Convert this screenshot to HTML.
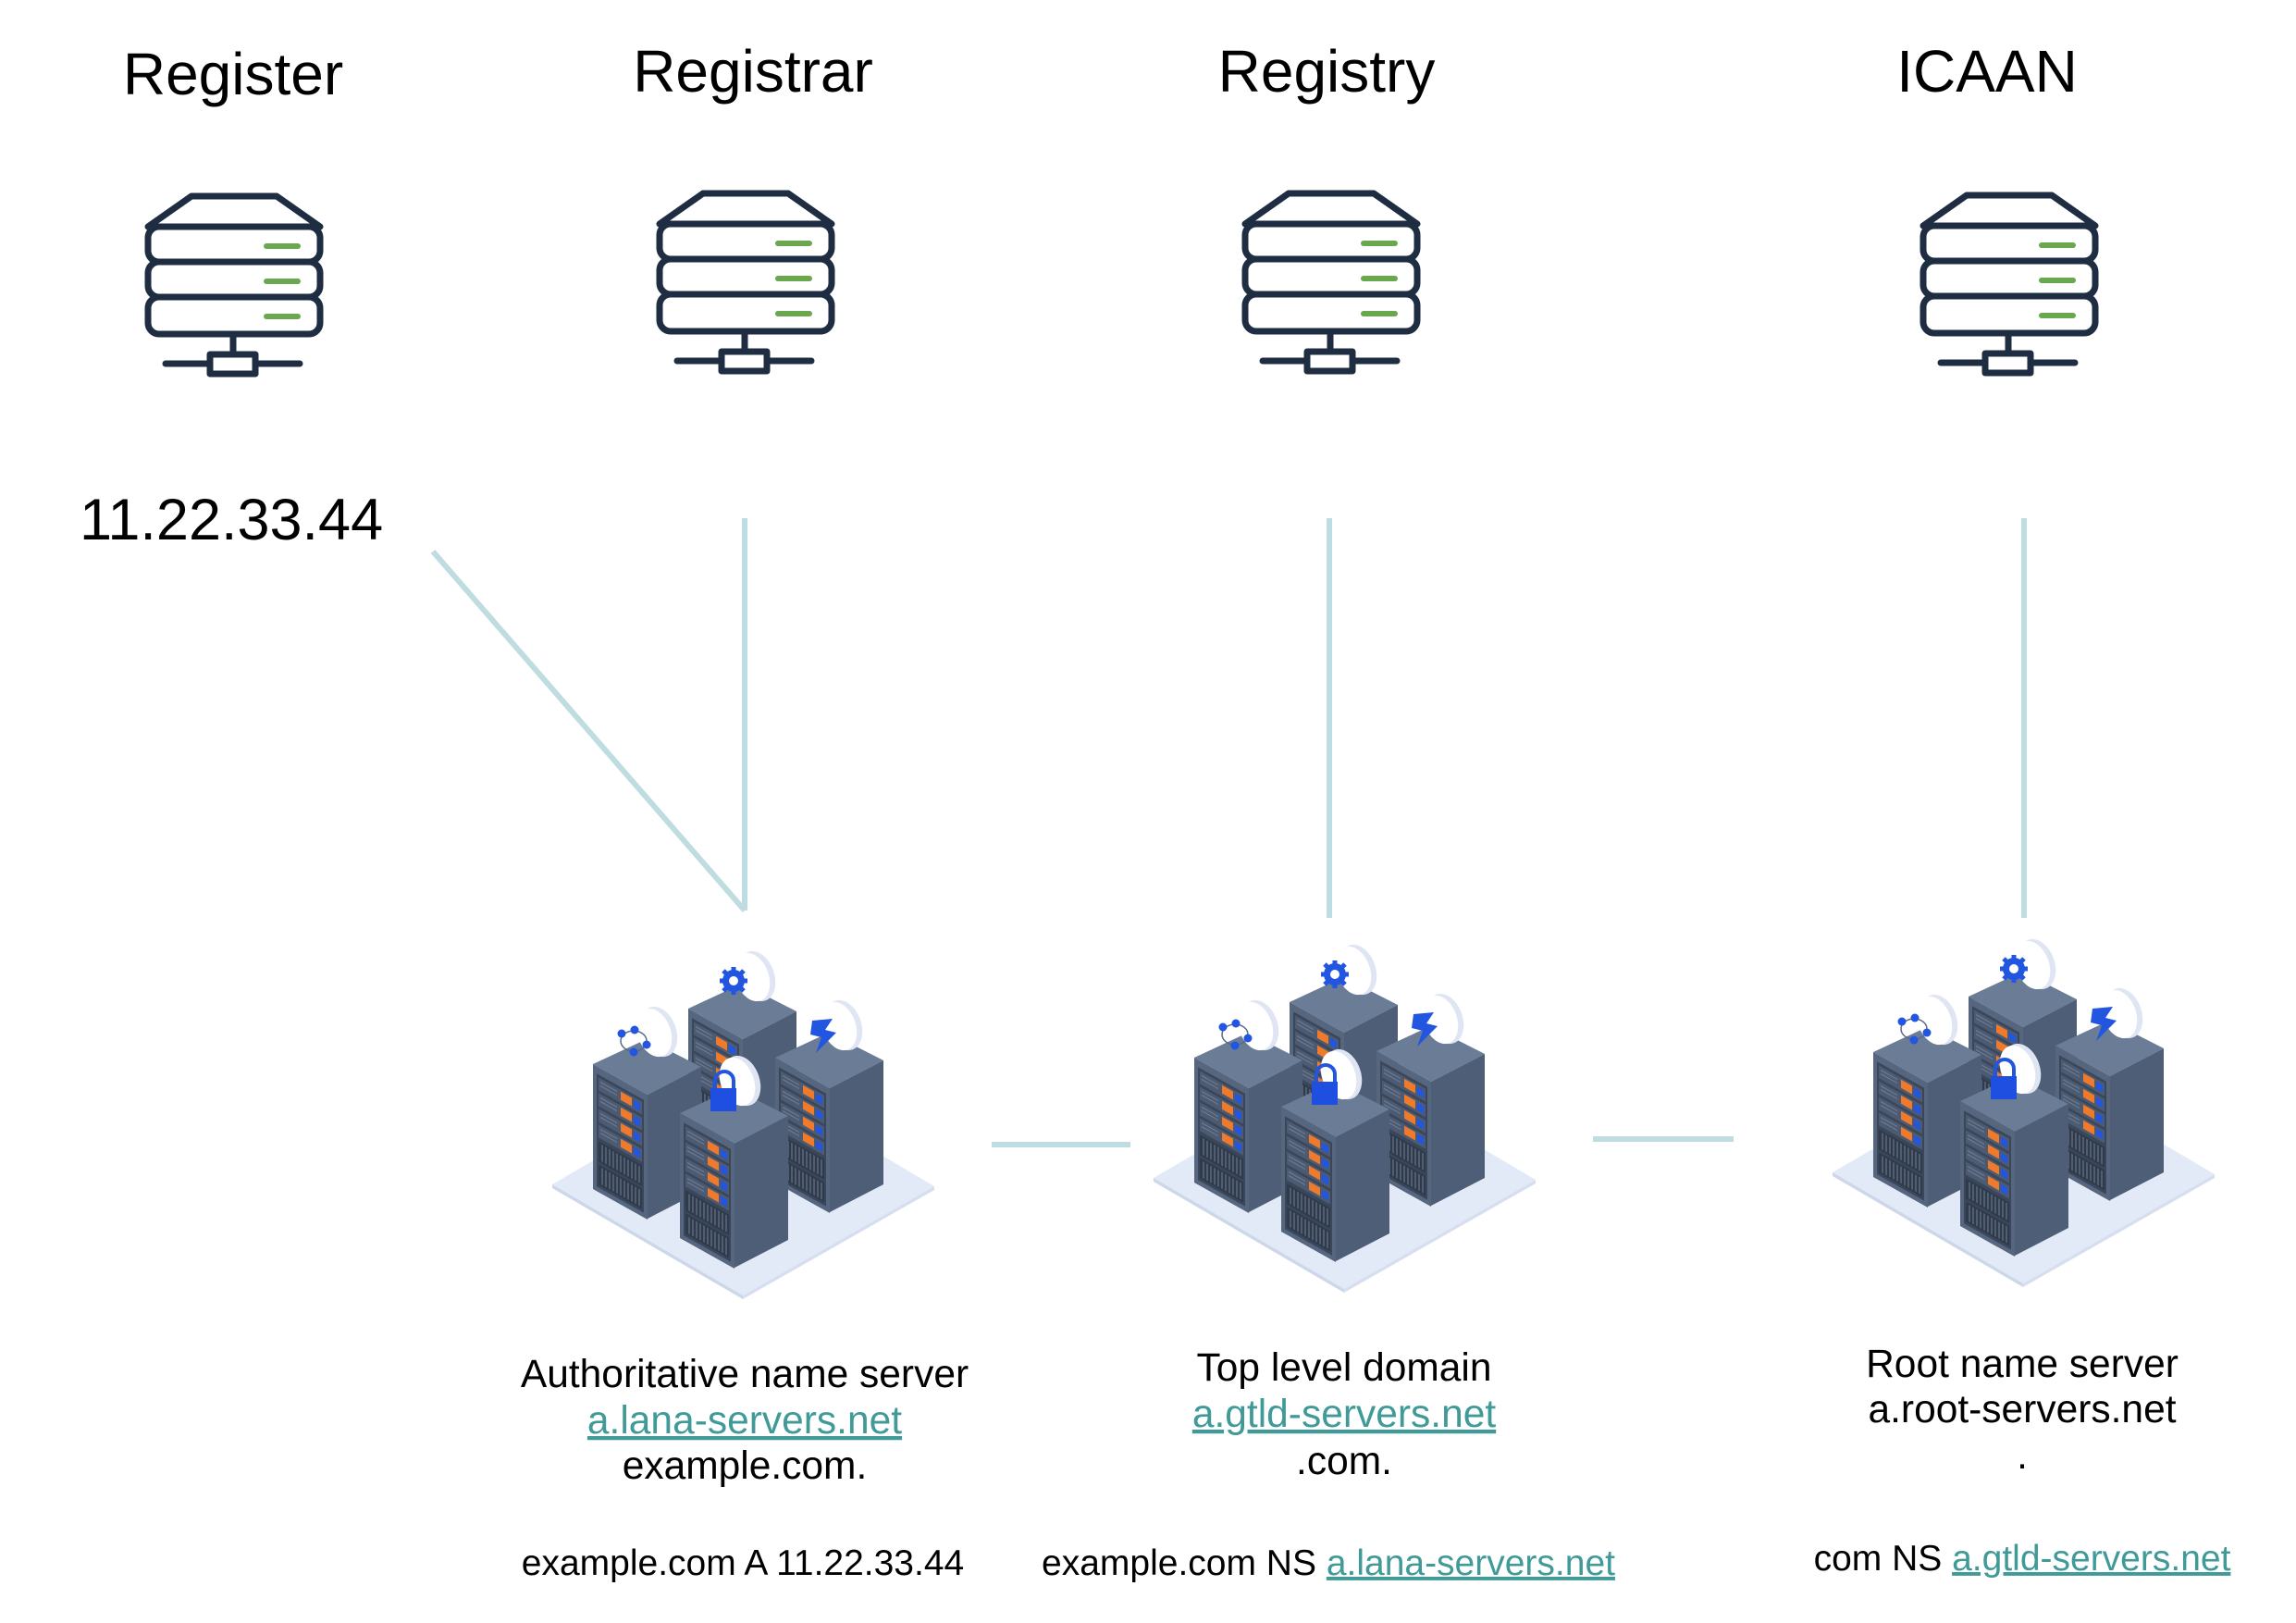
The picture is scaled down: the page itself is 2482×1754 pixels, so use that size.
<!DOCTYPE html>
<html><head><meta charset="utf-8"><style>
html,body{margin:0;padding:0;background:#fff;width:2482px;height:1754px;overflow:hidden}
svg{display:block}
text{font-family:"Liberation Sans",Arial,sans-serif;fill:#000}
.lk{fill:#3f9a98;text-decoration:underline}
</style></head><body>
<svg width="2482" height="1754" viewBox="0 0 2482 1754" xmlns="http://www.w3.org/2000/svg">
<defs>
<g id="icon" fill="none" stroke="#1f2d42" stroke-width="7" stroke-linejoin="round" stroke-linecap="round">
  <path d="M47 0 H139 L186 33 H0 Z" fill="#fff"/>
  <rect x="0" y="33" width="186" height="38" rx="12" fill="#fff"/>
  <rect x="0" y="71" width="186" height="38" rx="12" fill="#fff"/>
  <rect x="0" y="109" width="186" height="40" rx="12" fill="#fff"/>
  <line x1="92" y1="149" x2="92" y2="173"/>
  <line x1="19" y1="181" x2="164" y2="181"/>
  <rect x="67" y="171" width="49" height="21" fill="#fff"/>
  <g stroke="#6aa84f" stroke-width="6"><line x1="128" y1="54" x2="162" y2="54"/><line x1="128" y1="92" x2="162" y2="92"/><line x1="128" y1="130" x2="162" y2="130"/></g>
</g>
<g id="rack">
  <polygon points="0,0 59,33 117,3 58,-27" fill="#6a7c96"/>
  <polygon points="59,33 117,3 117,137 59,167" fill="#4e5e77"/>
  <g transform="matrix(1,0.56,0,1,0,0)">
    <rect x="0" y="0" width="59" height="135" fill="#56667e"/>
    <rect x="4" y="8" width="51" height="122" fill="#3a475b"/>
    <g fill="#4c5b71">
      <rect x="6" y="11" width="47" height="14"/><rect x="6" y="28" width="47" height="14"/>
      <rect x="6" y="45" width="47" height="14"/><rect x="6" y="62" width="47" height="14"/>
    </g>
    <g fill="#f07a2c">
      <rect x="30" y="13" width="12" height="9"/><rect x="30" y="30" width="12" height="9"/>
      <rect x="30" y="47" width="12" height="9"/><rect x="30" y="64" width="12" height="9"/>
    </g>
    <g fill="#2356e0">
      <rect x="44" y="14" width="7" height="8"/><rect x="44" y="31" width="7" height="8"/>
      <rect x="44" y="48" width="7" height="8"/><rect x="44" y="65" width="7" height="8"/>
    </g>
    <g stroke="#6f7e95" stroke-width="1.2">
      <line x1="8" y1="15" x2="26" y2="15"/><line x1="8" y1="19" x2="26" y2="19"/>
      <line x1="8" y1="32" x2="26" y2="32"/><line x1="8" y1="36" x2="26" y2="36"/>
      <line x1="8" y1="49" x2="26" y2="49"/><line x1="8" y1="53" x2="26" y2="53"/>
      <line x1="8" y1="66" x2="26" y2="66"/><line x1="8" y1="70" x2="26" y2="70"/>
    </g>
    <rect x="6" y="80" width="47" height="22" fill="#2f3a4b"/>
    <rect x="6" y="105" width="47" height="22" fill="#2f3a4b"/>
    <g stroke="#5d6b80" stroke-width="1.5">
      <path d="M10 82V100M14 82V100M18 82V100M22 82V100M26 82V100M30 82V100M34 82V100M38 82V100M42 82V100M46 82V100M50 82V100"/>
      <path d="M10 107V125M14 107V125M18 107V125M22 107V125M26 107V125M30 107V125M34 107V125M38 107V125M42 107V125M46 107V125M50 107V125"/>
    </g>
  </g>
</g>
<g id="disc"><ellipse cx="8" cy="0" rx="19" ry="28" fill="#dfe5f2" transform="rotate(-20 8 0)"/><ellipse cx="3" cy="1" rx="18" ry="27" fill="#fff" transform="rotate(-20 3 1)"/></g>
<g id="cluster">
  <polygon points="17,280 223,160 430,282 223,400" fill="#e3eaf7"/>
  <polygon points="17,280 223,400 223,404 17,284" fill="#cdd7ea"/>
  <polygon points="223,400 430,282 430,286 223,404" fill="#d6def0"/>
  <use href="#rack" x="164" y="90"/>
  <use href="#disc" x="230" y="55"/>
  <g transform="translate(213,60)" fill="#2356e0"><circle r="12"/><g stroke="#2356e0" stroke-width="5"><line x1="-15" y1="0" x2="15" y2="0"/><line x1="0" y1="-15" x2="0" y2="15"/><line x1="-11" y1="-11" x2="11" y2="11"/><line x1="-11" y1="11" x2="11" y2="-11"/></g><circle r="5" fill="#fff"/></g>
  <use href="#rack" x="61" y="150"/>
  <use href="#disc" x="124" y="115"/>
  <g transform="translate(105,125)"><ellipse rx="14" ry="11" fill="none" stroke="#5a6a86" stroke-width="1.5"/><g fill="#2356e0"><circle cx="-13" cy="-8" r="4.5"/><circle cx="1" cy="-12" r="4.5"/><circle cx="14" cy="4" r="4.5"/><circle cx="0" cy="12" r="4.5"/></g></g>
  <use href="#rack" x="258" y="143"/>
  <use href="#disc" x="324" y="108"/>
  <polygon points="298,103 320,101 312,113 324,116 302,138 308,121 296,118" fill="#2356e0"/>
  <use href="#rack" x="155" y="203"/>
  <use href="#disc" x="214" y="168"/>
  <path d="M193 178 V168 a10 10 0 0 1 20 0 V178" fill="none" stroke="#2356e0" stroke-width="4"/>
  <rect x="188" y="176" width="28" height="25" fill="#1f4fe0"/>
</g>
</defs>

<text x="252" y="102" font-size="64" text-anchor="middle">Register</text>
<text x="814" y="99" font-size="64" text-anchor="middle">Registrar</text>
<text x="1434" y="99" font-size="64" text-anchor="middle">Registry</text>
<text x="2148" y="99" font-size="64" text-anchor="middle">ICAAN</text>

<use href="#icon" x="160" y="212"/>
<use href="#icon" x="713" y="209"/>
<use href="#icon" x="1346" y="209"/>
<use href="#icon" x="2079" y="211"/>

<text x="86" y="583" font-size="63">11.22.33.44</text>

<g stroke="#bfdde0" stroke-width="6" stroke-linecap="butt">
  <line x1="468" y1="596" x2="805" y2="984"/>
  <line x1="805" y1="560" x2="805" y2="984"/>
  <line x1="1437" y1="560" x2="1437" y2="992"/>
  <line x1="2188" y1="560" x2="2188" y2="992"/>
  <line x1="1072" y1="1237" x2="1222" y2="1237"/>
  <line x1="1722" y1="1231" x2="1874" y2="1231"/>
</g>

<use href="#cluster" x="580" y="1000"/>
<use href="#cluster" x="1230" y="993"/>
<use href="#cluster" x="1964" y="987"/>

<g font-size="42.5" text-anchor="middle">
  <text x="805" y="1499">Authoritative name server</text>
  <text x="805" y="1549" class="lk">a.lana-servers.net</text>
  <text x="805" y="1598">example.com.</text>
  <text x="1453" y="1492">Top level domain</text>
  <text x="1453" y="1542" class="lk">a.gtld-servers.net</text>
  <text x="1453" y="1593">.com.</text>
  <text x="2186" y="1488">Root name server</text>
  <text x="2186" y="1537">a.root-servers.net</text>
  <text x="2186" y="1587">.</text>
</g>
<g font-size="39">
  <text x="803" y="1702" text-anchor="middle">example.com A 11.22.33.44</text>
  <text x="1436" y="1702" text-anchor="middle">example.com NS <tspan class="lk">a.lana-servers.net</tspan></text>
  <text x="2186" y="1697" text-anchor="middle">com NS <tspan class="lk">a.gtld-servers.net</tspan></text>
</g>
</svg>
</body></html>
